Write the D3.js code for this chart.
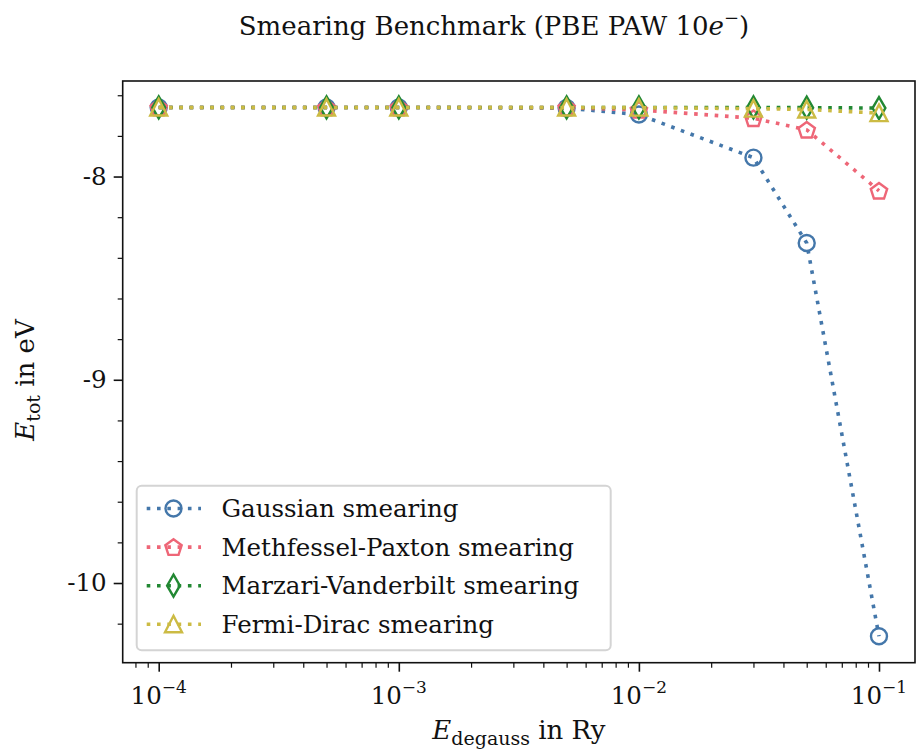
<!DOCTYPE html>
<html>
<head>
<meta charset="utf-8">
<script src="https://cdn.jsdelivr.net/npm/d3@7"></script>
<style>
    body { margin: 0; background: #fff; }
    text { font-family: "DejaVu Serif", serif; fill: #111; }
</style>
</head>
<body>
<svg id="chart" width="917" height="753"></svg>
<script>
// smearing widths (Ry)
const degauss = [1e-4, 5e-4, 1e-3, 5e-3, 1e-2, 3e-2, 5e-2, 1e-1];

// total energies (eV)
const gaussian = [-7.660, -7.660, -7.660, -7.663, -7.695, -7.907, -8.327, -10.262];
const methfessel = [-7.660, -7.660, -7.660, -7.661, -7.672, -7.713, -7.770, -8.070];
const marzari = [-7.660, -7.660, -7.660, -7.660, -7.660, -7.660, -7.661, -7.663];
const fermi = [-7.660, -7.660, -7.660, -7.660, -7.661, -7.666, -7.670, -7.688];

const seriesNames = [
    "Gaussian smearing",
    "Methfessel-Paxton smearing",
    "Marzari-Vanderbilt smearing",
    "Fermi-Dirac smearing",
];
const seriesColours = ["#4477AA", "#EE6677", "#228833", "#CCBB44"];
const seriesMarkers = ["circle", "pentagon", "diamond", "triangle"];

const yMajor = [-10, -9, -8];

const svg = d3.select("#chart");
const plotLeft = 122.7, plotRight = 915, plotTop = 81, plotBottom = 662.7;
const tickSize = 24.5;
const labelSize = 26;

// matplotlib-style 5% margins
const xExt = d3.extent(degauss).map(Math.log10);
const xPad = (xExt[1] - xExt[0]) * 0.05;
const x = d3.scaleLog()
    .domain([10 ** (xExt[0] - xPad), 10 ** (xExt[1] + xPad)])
    .range([plotLeft, plotRight]);

const allY = [].concat(gaussian, methfessel, marzari, fermi);
const yExt = d3.extent(allY);
const yPad = (yExt[1] - yExt[0]) * 0.05;
const y = d3.scaleLinear()
    .domain([yExt[0] - yPad, yExt[1] + yPad])
    .range([plotBottom, plotTop]);

// marker shapes
function markerPath(kind) {
    if (kind === "circle") {
        return d3.symbol().type(d3.symbolCircle).size(Math.PI * 8 * 8)();
    }
    if (kind === "pentagon") {
        const r = 8.6;
        const pts = d3.range(5).map((k) => {
            const a = (-90 + 72 * k) * Math.PI / 180;
            return [r * Math.cos(a), r * Math.sin(a) + 0.8];
        });
        return "M" + pts.map((p) => p.join(",")).join("L") + "Z";
    }
    if (kind === "diamond") {
        return "M0,-11L6.4,0L0,11L-6.4,0Z";
    }
    // triangle up
    return "M0,-8.5L8.5,8L-8.5,8Z";
}

const series = [gaussian, methfessel, marzari, fermi];

// axes
const xAxis = d3.axisBottom(x)
    .tickValues([1e-4, 1e-3, 1e-2, 1e-1])
    .tickSize(9)
    .tickFormat("");
svg.append("g")
    .attr("transform", `translate(0,${plotBottom})`)
    .call(xAxis)
    .call((g) => g.select(".domain").remove())
    .call((g) => g.selectAll("line").attr("stroke", "#111").attr("stroke-width", 1.6));

const minorX = [];
[-5, -4, -3, -2, -1].forEach((e) => {
    d3.range(2, 10).forEach((m) => {
        const v = m * 10 ** e;
        if (v >= x.domain()[0] && v <= x.domain()[1]) minorX.push(v);
    });
});
svg.append("g")
    .attr("transform", `translate(0,${plotBottom})`)
    .call(d3.axisBottom(x).tickValues(minorX).tickSize(5).tickFormat(""))
    .call((g) => g.select(".domain").remove())
    .call((g) => g.selectAll("line").attr("stroke", "#111").attr("stroke-width", 1.2));

// x tick labels as 10^n
const xLabels = svg.append("g");
[-4, -3, -2, -1].forEach((e) => {
    const t = xLabels.append("text")
        .attr("x", x(10 ** e))
        .attr("y", 704)
        .attr("text-anchor", "middle")
        .attr("font-size", tickSize);
    t.append("tspan").text("10");
    t.append("tspan")
        .attr("dy", -11)
        .attr("font-size", 17)
        .text("\u2212" + Math.abs(e));
});

svg.append("g")
    .attr("transform", `translate(${plotLeft},0)`)
    .call(d3.axisLeft(y).tickValues(yMajor).tickSize(9).tickPadding(7)
        .tickFormat((d) => "-" + Math.abs(d)))
    .call((g) => g.select(".domain").remove())
    .call((g) => g.selectAll("line").attr("stroke", "#111").attr("stroke-width", 1.6))
    .call((g) => g.selectAll("text")
        .attr("font-size", tickSize)
        .style("font-family", "DejaVu Serif, serif")
        .attr("fill", "#111"));

const minorY = d3.range(-10.2, -7.5, 0.2)
    .map((v) => Math.round(v * 10) / 10)
    .filter((v) => !yMajor.includes(v) && v >= y.domain()[0] && v <= y.domain()[1]);
svg.append("g")
    .attr("transform", `translate(${plotLeft},0)`)
    .call(d3.axisLeft(y).tickValues(minorY).tickSize(5).tickFormat(""))
    .call((g) => g.select(".domain").remove())
    .call((g) => g.selectAll("line").attr("stroke", "#111").attr("stroke-width", 1.2));

// series
const line = d3.line().x((d) => x(d[0])).y((d) => y(d[1]));
series.forEach((vals, i) => {
    const pts = degauss.map((d, j) => [d, vals[j]]);
    const g = svg.append("g");
    g.append("path")
        .datum(pts)
        .attr("d", line)
        .attr("fill", "none")
        .attr("stroke", seriesColours[i])
        .attr("stroke-width", 3.6)
        .attr("stroke-dasharray", "3.6,6.7");
    g.selectAll(".mk")
        .data(pts)
        .join("path")
        .attr("class", "mk")
        .attr("transform", (d) => `translate(${x(d[0])},${y(d[1])})`)
        .attr("d", markerPath(seriesMarkers[i]))
        .attr("fill", "none")
        .attr("stroke", seriesColours[i])
        .attr("stroke-width", 2.4);
});

// frame
svg.append("rect")
    .attr("x", plotLeft).attr("y", plotTop)
    .attr("width", plotRight - plotLeft).attr("height", plotBottom - plotTop)
    .attr("fill", "none").attr("stroke", "#111").attr("stroke-width", 1.6);

// legend
const legend = svg.append("g");
legend.append("rect")
    .attr("x", 136.7).attr("y", 485.7)
    .attr("width", 474).attr("height", 164.5)
    .attr("rx", 5)
    .attr("fill", "#fff").attr("fill-opacity", 0.8)
    .attr("stroke", "#d4d4d4").attr("stroke-width", 2);

seriesNames.forEach((name, i) => {
    const cy = 508.5 + i * 38.6;
    legend.append("line")
        .attr("x1", 146.7).attr("x2", 201)
        .attr("y1", cy).attr("y2", cy)
        .attr("stroke", seriesColours[i])
        .attr("stroke-width", 3.6)
        .attr("stroke-dasharray", "3.6,6.7");
    legend.append("path")
        .attr("transform", `translate(173.5,${cy})`)
        .attr("d", markerPath(seriesMarkers[i]))
        .attr("fill", "none")
        .attr("stroke", seriesColours[i])
        .attr("stroke-width", 2.4);
    legend.append("text")
        .attr("x", 221.5)
        .attr("y", cy + 8.5)
        .attr("font-size", tickSize)
        .text(name);
});

// title
const title = svg.append("text")
    .attr("x", 494).attr("y", 35)
    .attr("text-anchor", "middle")
    .attr("font-size", 26);
title.append("tspan").text("Smearing Benchmark (PBE PAW 10");
title.append("tspan").attr("font-style", "italic").text("e");
title.append("tspan").attr("dy", -11).attr("font-size", 18).text("\u2212");
title.append("tspan").attr("dy", 11).text(")");

// axis labels
const xl = svg.append("text")
    .attr("x", (plotLeft + plotRight) / 2).attr("y", 739)
    .attr("text-anchor", "middle")
    .attr("font-size", labelSize);
xl.append("tspan").attr("font-style", "italic").text("E");
xl.append("tspan").attr("dy", 6).attr("font-size", 19).text("degauss");
xl.append("tspan").attr("dy", -6).text(" in Ry");

const yl = svg.append("text")
    .attr("transform", "translate(34,380) rotate(-90)")
    .attr("text-anchor", "middle")
    .attr("font-size", labelSize);
yl.append("tspan").attr("font-style", "italic").text("E");
yl.append("tspan").attr("dy", 6).attr("font-size", 19).text("tot");
yl.append("tspan").attr("dy", -6).text(" in eV");
</script>
</body>
</html>
